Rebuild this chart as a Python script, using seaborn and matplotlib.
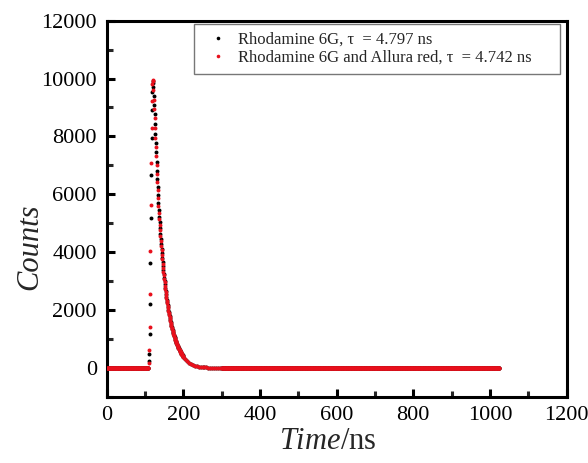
import numpy as np
import pandas as pd
import matplotlib
matplotlib.use("Agg")
import matplotlib.pyplot as plt
from matplotlib.lines import Line2D
from matplotlib.ticker import MultipleLocator
import seaborn as sns

# ---- fluorescence decay data (1 ns channels around the pulse) ----
pulse_time_ns = np.arange(110, 201)          # channels 110 ... 200 ns
tail_time_ns = np.arange(205, 301, 5)        # 205 ... 300 ns
baseline_pre_ns = np.arange(0, 110, 1)       # flat background before the pulse
baseline_post_ns = np.arange(301, 1026, 1)   # flat background after the decay
baseline_counts = 0

r6g_pulse = [
    220, 470, 1170, 2210, 3620, 5180, 6650, 7950, 8900, 9550, 9850,
    9930, 9700, 9400, 9080, 8770, 8430, 8080, 7760, 7450, 7130, 6820, 6520,
    6250, 5960, 5680, 5440, 5230,
    5030, 4830, 4640, 4460, 4285, 4120, 3960, 3805, 3660, 3515,
    3380, 3250, 3120, 3000, 2880, 2765, 2660, 2555, 2455, 2360,
    2265, 2175, 2095, 2010, 1930, 1855, 1785, 1715, 1645, 1580,
    1520, 1460, 1400, 1345, 1295, 1245, 1195, 1150, 1100, 1060,
    1015, 975, 935, 900, 865, 830, 795, 760, 730, 700,
    670, 645, 615, 590, 565, 540, 515, 490, 470, 450,
    425, 405, 385,
]
r6g_tail = [295, 225, 170, 128, 97, 72, 54, 40, 29, 21,
            15, 11, 8, 6, 4, 3, 2, 1, 1, 0]

mix_pulse = [
    160, 620, 1400, 2560, 4050, 5640, 7080, 8290, 9215, 9800, 9965,
    9900, 9595, 9273, 8950, 8640, 8293, 7948, 7636, 7335, 7024, 6712, 6411,
    6159, 5872, 5581, 5353, 5150,
    4950, 4755, 4570, 4390, 4220, 4055, 3895, 3745, 3600, 3460,
    3325, 3195, 3070, 2950, 2835, 2720, 2615, 2515, 2415, 2320,
    2230, 2140, 2060, 1975, 1900, 1825, 1755, 1685, 1620, 1555,
    1495, 1435, 1380, 1325, 1275, 1225, 1175, 1130, 1085, 1040,
    1000, 960, 920, 885, 850, 815, 780, 750, 720, 690,
    660, 635, 605, 580, 555, 530, 505, 485, 460, 440,
    420, 400, 380,
]
mix_tail = [290, 220, 165, 125, 95, 70, 52, 38, 28, 20,
            15, 11, 8, 6, 4, 3, 2, 1, 1, 0]

labels = ["Rhodamine 6G, \u03c4  = 4.797 ns",
          "Rhodamine 6G and Allura red, \u03c4  = 4.742 ns"]
colors = ["#000000", "#e8101c"]


def build_series(pulse, tail):
    t = np.concatenate([baseline_pre_ns, pulse_time_ns, tail_time_ns, baseline_post_ns])
    c = np.concatenate([np.full(len(baseline_pre_ns), baseline_counts), pulse, tail,
                        np.full(len(baseline_post_ns), baseline_counts)])
    return pd.DataFrame({"time": t, "counts": c})


df_r6g = build_series(r6g_pulse, r6g_tail)
df_mix = build_series(mix_pulse, mix_tail)

sns.set_theme(style="ticks")
plt.rcParams["font.family"] = ["Liberation Serif", "DejaVu Serif"]
plt.rcParams["mathtext.fontset"] = "custom"
plt.rcParams["mathtext.rm"] = "Liberation Serif"
plt.rcParams["mathtext.it"] = "Liberation Serif:italic"

fig = plt.figure(figsize=(5.88, 4.63), dpi=100)
ax = fig.add_axes([0.1815, 0.1432, 0.782, 0.8121])

sns.scatterplot(data=df_r6g, x="time", y="counts", color=colors[0], s=8,
                linewidth=0, ax=ax, legend=False, zorder=2)
sns.scatterplot(data=df_mix, x="time", y="counts", color=colors[1], s=8,
                linewidth=0, ax=ax, legend=False, zorder=3)

ax.set_xlim(0, 1200)
ax.set_ylim(-1000, 12000)
ax.xaxis.set_major_locator(MultipleLocator(200))
ax.xaxis.set_minor_locator(MultipleLocator(100))
ax.yaxis.set_major_locator(MultipleLocator(2000))
ax.yaxis.set_minor_locator(MultipleLocator(1000))
ax.set_yticks(np.arange(0, 12001, 2000))

for sp in ax.spines.values():
    sp.set_linewidth(2.2)
    sp.set_color("black")
ax.tick_params(which="major", direction="in", length=6, width=2.2,
               labelsize=16, pad=7, colors="black")
ax.tick_params(which="minor", direction="in", length=4, width=2.2)
ax.tick_params(top=False, right=False, which="both")

ax.set_xlabel(r"$\it{Time}$/ns", fontsize=22)
ax.set_ylabel("Counts", fontsize=22, fontstyle="italic")
ax.xaxis.set_label_coords(0.481, -0.08)
ax.yaxis.set_label_coords(-0.135, 0.40)

handles = [Line2D([], [], linestyle="none", marker="o", markersize=2.6,
                  markeredgewidth=0, color=c) for c in colors]
leg = ax.legend(handles, labels, loc="upper left", mode="expand",
                bbox_to_anchor=(194 / 588, 1 - 73 / 463, 366 / 588, 49 / 463),
                bbox_transform=fig.transFigure, borderaxespad=0,
                fontsize=12, frameon=True, fancybox=False,
                handlelength=2.0, handletextpad=0.2, borderpad=0.45,
                labelspacing=0.15)
leg.get_frame().set_edgecolor("#555555")
leg.get_frame().set_linewidth(1.0)

fig.savefig("out.png", dpi=100)
